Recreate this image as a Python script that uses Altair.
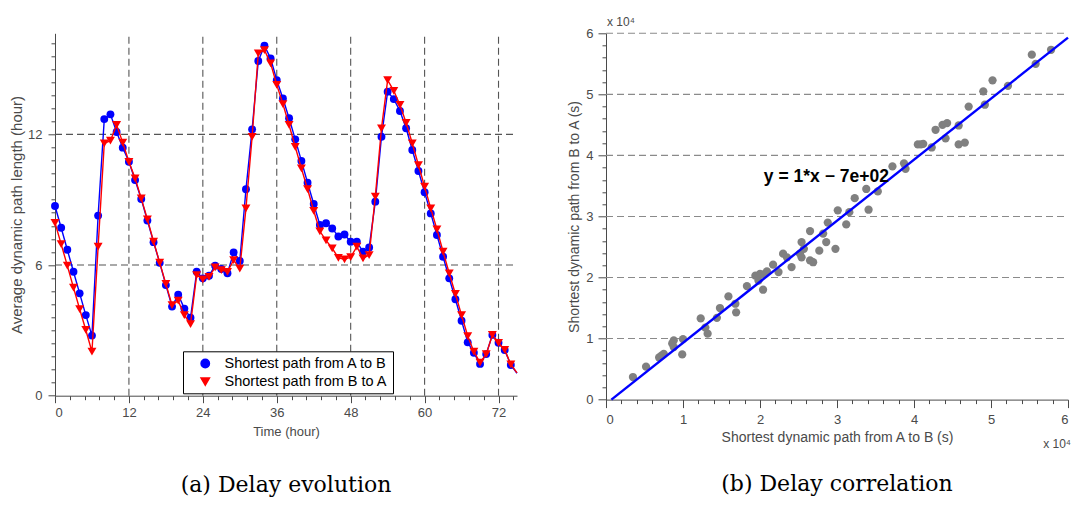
import altair as alt
import pandas as pd

# ---------------- data: (a) delay evolution ----------------
hours = list(range(76))
series_names = ["Shortest path from A to B", "Shortest path from B to A"]
a_to_b = [8.71, 7.71, 6.70, 5.69, 4.70, 3.70, 2.76, 8.27, 12.70, 12.92,
          12.11, 11.39, 10.74, 9.90, 9.03, 8.04, 7.05, 6.10, 5.08, 4.09,
          4.64, 4.00, 3.58, 5.69, 5.39, 5.51, 5.97, 5.82, 5.62, 6.58,
          6.19, 9.48, 12.23, 15.37, 16.07, 15.49, 14.49, 13.65, 12.74, 11.77,
          10.78, 9.78, 8.80, 7.84, 7.92, 7.68, 7.31, 7.40, 7.07, 7.07,
          6.61, 6.81, 8.91, 11.89, 13.96, 13.62, 13.07, 12.28, 11.28, 10.32,
          9.34, 8.37, 7.38, 6.38, 5.39, 4.43, 3.44, 2.45, 1.97, 1.46,
          1.91, 2.79, 2.43, 2.10, 1.41, 1.03]
b_to_a = [7.94, 6.96, 5.97, 4.96, 3.98, 3.02, 2.02, 6.84, 11.59, 11.71,
          12.43, 11.62, 10.74, 9.98, 9.06, 8.10, 7.08, 6.11, 5.13, 4.16,
          4.36, 3.70, 3.29, 5.54, 5.34, 5.46, 5.89, 5.77, 5.69, 6.23,
          5.83, 8.60, 11.89, 15.72, 15.87, 15.26, 14.27, 13.39, 12.43, 11.43,
          10.44, 9.49, 8.49, 7.55, 7.13, 6.77, 6.33, 6.26, 6.36, 6.84,
          6.31, 6.46, 9.14, 12.28, 14.49, 14.00, 13.35, 12.53, 11.59, 10.59,
          9.60, 8.60, 7.64, 6.61, 5.62, 4.67, 3.70, 2.74, 2.02, 1.52,
          1.91, 2.79, 2.43, 2.10, 1.44, 1.05]
last_marker_hour = 74          # the final entry only continues the line to the axis edge
left_x_grid = [12, 24, 36, 48, 60, 72]
left_y_grid = [6, 12]
left_x_ticks = [round(i * 2.4, 1) for i in range(32)]
left_y_ticks = [round(i * 0.6, 1) for i in range(28)]
left_x_domain = [0, 75]
left_y_domain = [0, 16.64]

# ---------------- data: (b) delay correlation ----------------
ab_sec = [3500, 5200, 6900, 7500, 8800, 8800, 10000, 9900, 12300, 12900,
          13200, 14400, 14800, 15900, 16800, 16900, 18300, 19400, 19800, 20400,
          20600, 21700, 22400, 23000, 24100, 25400, 25200, 26500, 26500, 27700,
          25400, 28600, 29800, 28200, 28800, 31200, 26900, 30100, 31600, 32300,
          33800, 34100, 35300, 37200, 38700, 38900, 40900, 42300, 42800, 43700,
          44300, 44100, 45800, 45800, 46600, 47100, 49000, 49200, 50200, 52200,
          55300, 55800, 57800, 20000, 20900, 8600, 7200, 25700, 23500, 40500, 41200]
ba_sec = [3700, 5400, 6900, 7500, 9700, 8600, 9900, 7400, 13300, 11800,
          10800, 13400, 15000, 16900, 15700, 14300, 18600, 20300, 19500, 18000,
          20600, 22100, 20900, 23900, 21700, 25800, 23900, 22800, 27600, 24400,
          23300, 25800, 24700, 27200, 29000, 28700, 22500, 31000, 30700, 33000,
          34500, 31100, 34100, 38200, 38700, 37800, 41800, 41300, 44200, 45000,
          45300, 42800, 44900, 41800, 42100, 48000, 50500, 48300, 52300, 51400,
          56500, 55000, 57300, 20600, 21000, 9200, 7200, 24700, 23300, 41800, 41900]
fit_slope = 1.0
fit_intercept = -700
fit_x = [700, 60000]
fit_y = [fit_slope * v + fit_intercept for v in fit_x]
fit_label = "y = 1*x \u2212 7e+02"
right_ticks = [i * 2000 for i in range(31)]
right_grid = [10000, 20000, 30000, 40000, 50000, 60000]
right_domain = [0, 60000]

captions = ["(a) Delay evolution", "(b) Delay correlation"]

# ---------------- styling ----------------
FONT = "Liberation Sans"
AX = "#4a4a4a"
PANEL_W = 462

lx = alt.Scale(domain=left_x_domain, nice=False, zero=False)
ly = alt.Scale(domain=left_y_domain, nice=False, zero=False)
rx = alt.Scale(domain=right_domain, nice=False, zero=False)
ry = alt.Scale(domain=right_domain, nice=False, zero=False)

common_axis = dict(grid=False, domainColor=AX, tickColor=AX, labelColor=AX,
                   labelFont=FONT, titleFont=FONT, titleColor=AX,
                   titleFontWeight="normal", domainWidth=1, tickWidth=1)

left_x_axis = alt.Axis(
    values=left_x_ticks,
    labelExpr="datum.value % 12 === 0 ? format(datum.value, 'd') : ''",
    tickSize={"condition": {"test": "datum.value % 12 === 0", "value": 7}, "value": 4},
    labelPadding=4, labelFontSize=13, title="Time (hour)", titleFontSize=13,
    titlePadding=6, **common_axis)
left_y_axis = alt.Axis(
    values=left_y_ticks,
    labelExpr="datum.value % 6 === 0 ? format(datum.value, 'd') : ''",
    tickSize={"condition": {"test": "datum.value % 6 === 0", "value": 7}, "value": 4},
    labelPadding=6, labelFontSize=13, title="Average dynamic path length (hour)",
    titleFontSize=15, titlePadding=3, **common_axis)
right_x_axis = alt.Axis(
    values=right_ticks,
    labelExpr="datum.value % 10000 === 0 ? format(datum.value / 10000, 'd') : ''",
    tickSize={"condition": {"test": "datum.value % 10000 === 0", "value": 8}, "value": 4},
    labelPadding=6, labelFontSize=13, title="Shortest dynamic path from A to B (s)",
    titleFontSize=14, titlePadding=4, **common_axis)
right_y_axis = alt.Axis(
    values=right_ticks,
    labelExpr="datum.value % 10000 === 0 ? format(datum.value / 10000, 'd') : ''",
    tickSize={"condition": {"test": "datum.value % 10000 === 0", "value": 8}, "value": 4},
    labelPadding=5, labelFontSize=13, title="Shortest dynamic path from B to A (s)",
    titleFontSize=14, titlePadding=4, **common_axis)

def caption(text, offset):
    return alt.TitleParams(text=text, orient="bottom", anchor="middle", font="DejaVu Serif",
                           fontSize=22, fontWeight="normal", color="black", offset=offset)

# ---------------- panel (a) ----------------
evo = pd.DataFrame({
    "hour": hours * 2,
    "value": a_to_b + b_to_a,
    "series": [series_names[0]] * len(hours) + [series_names[1]] * len(hours),
})
color_scale = alt.Scale(domain=series_names, range=["#0000ff", "#ff0000"])
shape_scale = alt.Scale(domain=series_names, range=["circle", "triangle-down"])
legend = alt.Legend(orient="none", legendX=128, legendY=318, title=None,
                    fillColor="white", strokeColor="black", padding=5,
                    labelFont=FONT, labelFontSize=14.5, labelColor="black",
                    labelLimit=400, symbolSize=70, rowPadding=2,
                    labelOffset=12, symbolOffset=10)

def LX(field):
    return alt.X(field, scale=lx, axis=left_x_axis)

def LY(field):
    return alt.Y(field, scale=ly, axis=left_y_axis)

vgrid = alt.Chart(pd.DataFrame({"h": left_x_grid})).mark_rule(
    color="#555555", strokeDash=[7, 4], strokeWidth=1.1
).encode(x=LX("h:Q"),
         y=alt.datum(left_y_domain[0], scale=ly, axis=left_y_axis),
         y2=alt.datum(left_y_domain[1]))
hgrid = alt.Chart(pd.DataFrame({"v": left_y_grid})).mark_rule(
    color="#555555", strokeDash=[7, 4], strokeWidth=1.1
).encode(y=LY("v:Q"),
         x=alt.datum(left_x_domain[0], scale=lx, axis=left_x_axis),
         x2=alt.datum(left_x_domain[1]))

def series_layers(name):
    base = alt.Chart(evo).transform_filter(alt.datum.series == name)
    line = base.mark_line(strokeWidth=1.4).encode(
        x=LX("hour:Q"), y=LY("value:Q"),
        color=alt.Color("series:N", scale=color_scale, legend=legend),
    )
    pts = base.transform_filter(alt.datum.hour <= last_marker_hour).mark_point(
        filled=True, opacity=1, size=62 if name == series_names[0] else 80
    ).encode(
        x=LX("hour:Q"), y=LY("value:Q"),
        color=alt.Color("series:N", scale=color_scale, legend=legend),
        shape=alt.Shape("series:N", scale=shape_scale, legend=legend),
    )
    return [line, pts]

left = alt.layer(vgrid, hgrid, *series_layers(series_names[0]),
                 *series_layers(series_names[1])).properties(
    width=PANEL_W, height=362.4, title=caption(captions[0], 36))

# ---------------- panel (b) ----------------
def RX(field):
    return alt.X(field, scale=rx, axis=right_x_axis)

def RY(field):
    return alt.Y(field, scale=ry, axis=right_y_axis)

corr = pd.DataFrame({"ab": ab_sec, "ba": ba_sec})
rgrid = alt.Chart(pd.DataFrame({"v": right_grid})).mark_rule(
    color="#8a8a8a", strokeDash=[7, 4], strokeWidth=1.1
).encode(y=RY("v:Q"),
         x=alt.datum(right_domain[0], scale=rx, axis=right_x_axis),
         x2=alt.datum(right_domain[1]))
scatter = alt.Chart(corr).mark_circle(size=68, color="#808080", opacity=1).encode(
    x=RX("ab:Q"), y=RY("ba:Q"))
fit = alt.Chart(pd.DataFrame({"x": fit_x, "y": fit_y})).mark_line(
    color="#0000ff", strokeWidth=2.4
).encode(x=RX("x:Q"), y=RY("y:Q"))
eq = alt.Chart(pd.DataFrame({"t": [fit_label]})).mark_text(
    font=FONT, fontSize=17.5, fontWeight="bold", color="black", align="left", baseline="middle"
).encode(x=alt.datum(20500, scale=rx, axis=right_x_axis),
         y=alt.datum(36400, scale=ry, axis=right_y_axis), text="t:N")
exp_top = alt.Chart(pd.DataFrame({"t": ["x 10\u2074"]})).mark_text(
    font=FONT, fontSize=12, color=AX, align="left", baseline="middle", dx=1, dy=-11
).encode(x=alt.datum(0, scale=rx, axis=right_x_axis),
         y=alt.datum(60000, scale=ry, axis=right_y_axis), text="t:N")
exp_bot = alt.Chart(pd.DataFrame({"t": ["x 10\u2074"]})).mark_text(
    font=FONT, fontSize=12, color=AX, align="right", baseline="middle", dx=3, dy=44
).encode(x=alt.datum(60000, scale=rx, axis=right_x_axis),
         y=alt.datum(0, scale=ry, axis=right_y_axis), text="t:N")

right = alt.layer(rgrid, scatter, fit, eq, exp_top, exp_bot).properties(
    width=PANEL_W, height=366.3, title=caption(captions[1], 24))

# drawing is 1064 x 489; plot area of panel (a) starts at (47, 25.3) inside it
PAD_L, PAD_T = 47, 25.3
chart = alt.hconcat(left, right, spacing=89, bounds="flush").resolve_scale(
    color="independent", shape="independent"
).properties(
    autosize=alt.AutoSizeParams(type="none"),
    padding={"left": PAD_L, "top": PAD_T, "right": 1064 - PAD_L, "bottom": 489 - PAD_T},
).configure_view(stroke=None)

chart.save("out.html", embed_options={"renderer": "svg", "actions": False})
